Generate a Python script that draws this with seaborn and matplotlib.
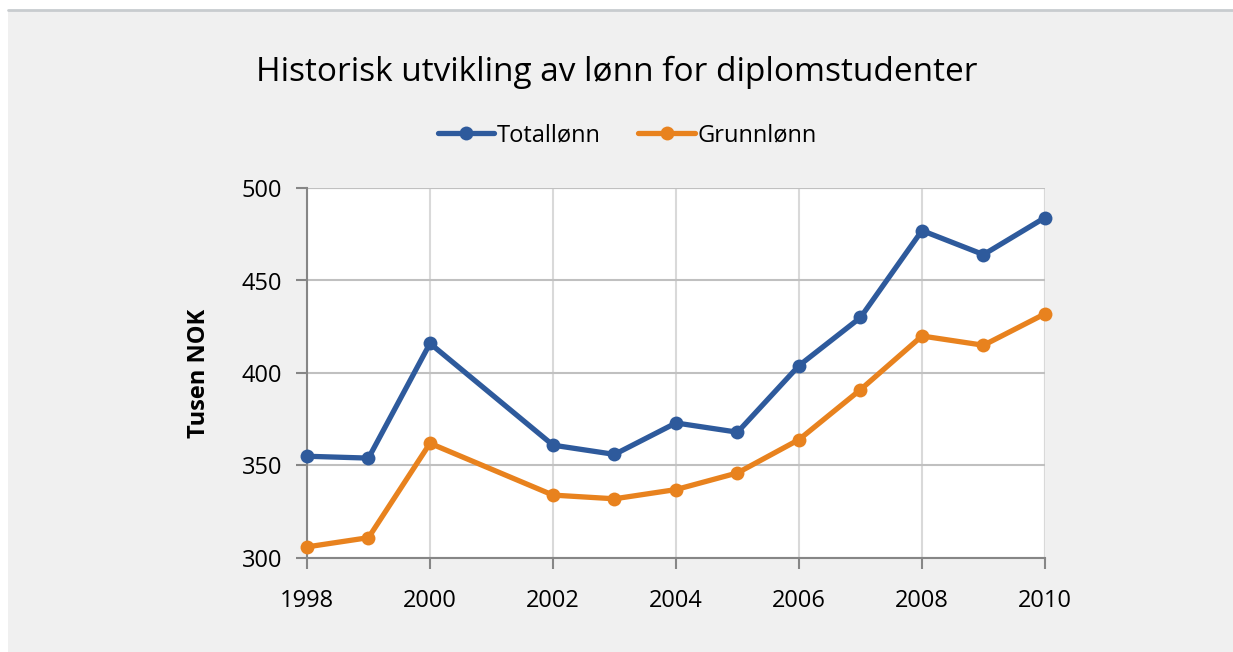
import matplotlib
matplotlib.use("Agg")
import matplotlib.pyplot as plt
import matplotlib.patches as mpatches
import matplotlib.lines as mlines
import seaborn as sns
import pandas as pd

# Lønnsdata (tusen NOK)
years = [1998, 1999, 2000, 2002, 2003, 2004, 2005, 2006, 2007, 2008, 2009, 2010]
totallonn = [355, 354, 416, 361, 356, 373, 368, 404, 430, 477, 464, 484]
grunnlonn = [306, 311, 362, 334, 332, 337, 346, 364, 391, 420, 415, 432]
series_names = ["Totallønn", "Grunnlønn"]
colors = ["#2e5a9c", "#e8821e"]
x_ticks = [1998, 2000, 2002, 2004, 2006, 2008, 2010]
y_ticks = [300, 350, 400, 450, 500]

df = pd.concat([
    pd.DataFrame({"År": years, "Lønn": totallonn, "Serie": series_names[0]}),
    pd.DataFrame({"År": years, "Lønn": grunnlonn, "Serie": series_names[1]}),
])

sns.set_style("white")
plt.rcParams["font.family"] = ["Open Sans", "DejaVu Sans"]
plt.rcParams["text.color"] = "black"

fig = plt.figure(figsize=(12.33, 6.52), dpi=100)
fig.patch.set_facecolor("white")

# grå bakgrunnsboks med linje øverst
bg = mpatches.Rectangle((8 / 1233, 0), 1, (652 - 10) / 652, transform=fig.transFigure,
                        facecolor="#f0f0f0", edgecolor="none", zorder=-10)
fig.patches.append(bg)
fig.add_artist(mlines.Line2D([8 / 1233, 1], [(652 - 10) / 652] * 2, transform=fig.transFigure,
                             color="#c8cccf", lw=2))

ax = fig.add_axes([307 / 1233, 94 / 652, 738 / 1233, 370 / 652])
ax.set_facecolor("white")

sns.lineplot(data=df, x="År", y="Lønn", hue="Serie", palette=colors, marker="o",
             markersize=10, markeredgewidth=0, linewidth=3.8, ax=ax, legend=False)
for line in ax.lines:
    line.set_clip_on(False)
    line.set_zorder(5)

ax.set_xlim(1998, 2010)
ax.set_ylim(300, 500)
ax.set_xticks(x_ticks)
ax.set_yticks(y_ticks)
ax.tick_params(axis="both", labelsize=17, colors="#868686", length=8, width=1.5,
               direction="out", labelcolor="black", bottom=True, left=True)
ax.tick_params(axis="x", pad=14)
ax.tick_params(axis="y", pad=10)

for side in ["top", "right"]:
    ax.spines[side].set_visible(False)
for side in ["left", "bottom"]:
    ax.spines[side].set_color("#868686")
    ax.spines[side].set_linewidth(1.5)

ax.yaxis.grid(True, color="#c0c0c0", lw=1.5)
ax.xaxis.grid(True, color="#d9d9d9", lw=1.5)
ax.set_axisbelow(True)
ax.axhline(500, color="#c8c8c8", lw=1.5, zorder=0)
ax.axvline(2010, color="#d9d9d9", lw=1.5, zorder=0)

ax.set_xlabel("")
ax.set_ylabel("Tusen NOK", fontsize=17, fontweight="bold", labelpad=22, color="black")

fig.text(0.5, 1 - 72 / 652, "Historisk utvikling av lønn for diplomstudenter",
         ha="center", va="center", fontsize=24, color="black")

handles = [mlines.Line2D([], [], color=c, lw=3.8, marker="o", markersize=10, markeredgewidth=0)
           for c in colors]
fig.legend(handles, series_names, loc="center", bbox_to_anchor=(627 / 1233, 1 - 135 / 652),
           ncol=2, frameon=False, fontsize=17, handlelength=2.4, handletextpad=0.1,
           columnspacing=1.6, labelcolor="black")

fig.savefig("out.png", dpi=100, facecolor=fig.get_facecolor())
